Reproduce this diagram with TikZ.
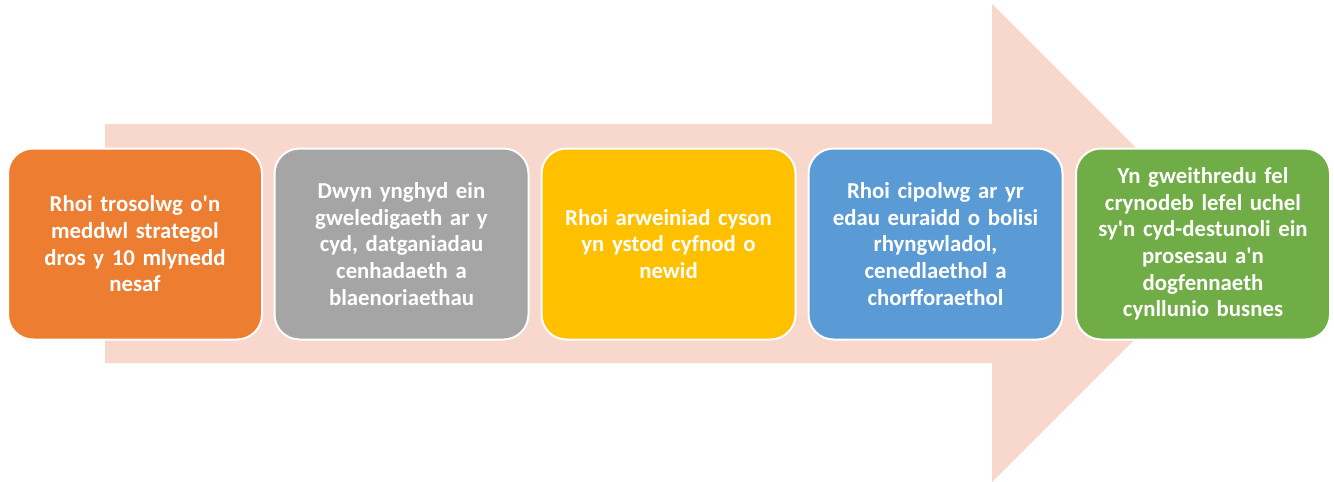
\documentclass[tikz,border=0pt]{standalone}
\usepackage{fontspec}
\setmainfont{Carlito}
\definecolor{arrowfill}{HTML}{F8D7CD}
\definecolor{corange}{HTML}{ED7D31}
\definecolor{cgray}{HTML}{A5A5A5}
\definecolor{cyellow}{HTML}{FFC000}
\definecolor{cblue}{HTML}{5B9BD5}
\definecolor{cgreen}{HTML}{70AD47}
\newcommand{\ap}{\textquotesingle}
\tikzset{
  stepbox/.style={draw=white, line width=2pt, rounded corners=25pt,
    minimum width=254pt, minimum height=191pt, inner sep=0pt,
    text=white, align=center, text width=240pt,
    font=\fontsize{22.8pt}{26.7pt}\selectfont\bfseries}
}
\begin{document}
\begin{tikzpicture}[x=1pt,y=-1pt]
\useasboundingbox (0,0) rectangle (1334,482);
\fill[arrowfill] (105,124) -- (992,124) -- (992,4) -- (1231,243) -- (992,482) -- (992,363) -- (105,363) -- cycle;
\node[stepbox, fill=corange] (b1) at (135,244) {Rhoi trosolwg o\ap n\\meddwl strategol\\dros y 10 mlynedd\\nesaf};
\node[stepbox, fill=cgray] (b2) at (401.5,244) {Dwyn ynghyd ein\\gweledigaeth ar y\\cyd, datganiadau\\cenhadaeth a\\blaenoriaethau};
\node[stepbox, fill=cyellow] (b3) at (668.5,244) {Rhoi arweiniad cyson\\yn ystod cyfnod o\\newid};
\node[stepbox, fill=cblue] (b4) at (935.5,244) {Rhoi cipolwg ar yr\\edau euraidd o bolisi\\rhyngwladol,\\cenedlaethol a\\chorfforaethol};
\node[stepbox, fill=cgreen] (b5) at (1203,244) {Yn gweithredu fel\\crynodeb lefel uchel\\sy\ap n cyd-destunoli ein\\prosesau a\ap n\\dogfennaeth\\cynllunio busnes};
\end{tikzpicture}
\end{document}
